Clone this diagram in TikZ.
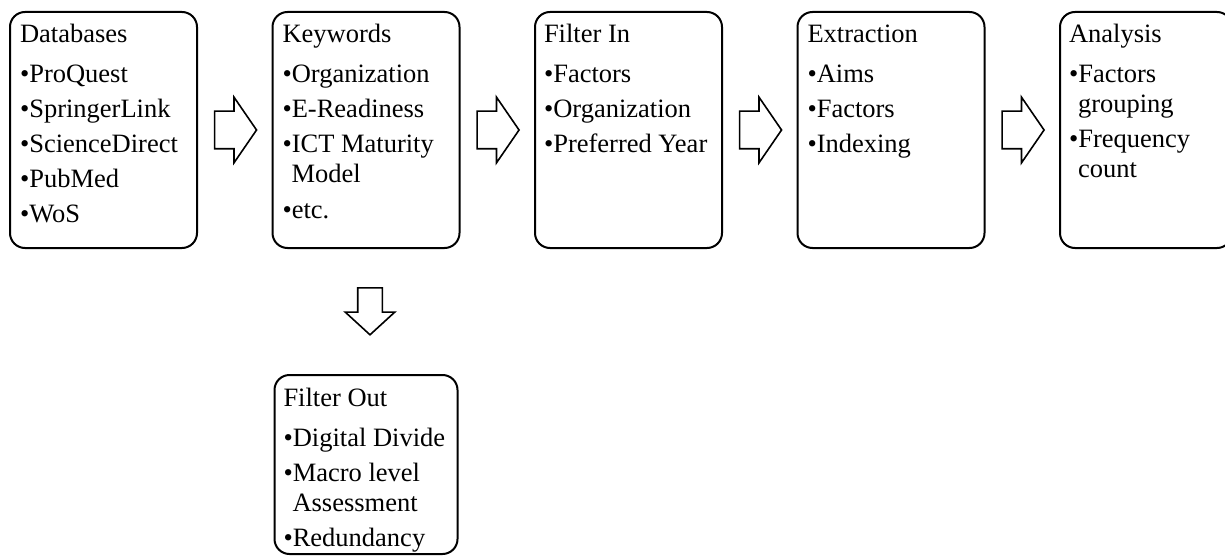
\documentclass[tikz,border=0pt]{standalone}
\usepackage{fontspec}
\setmainfont{Liberation Serif}
\usetikzlibrary{positioning,shapes.arrows,calc}

% text block of a stage: width, height, left inset, content
\newcommand{\stagetext}[4]{%
  \begin{minipage}[c][#2][t]{#1}%
  \fontsize{26.5}{30}\selectfont\raggedright
  \leftskip=#3\relax\parskip=5pt\relax
  \rule{0pt}{31pt}#4%
  \end{minipage}}
\newcommand{\stagehead}[1]{#1\par\vspace{5pt}}
\newcommand{\itm}[1]{\par\hangindent=9pt\hangafter=1 •#1}

\begin{document}
\begin{tikzpicture}[x=1pt, y=-1pt,
  stage/.style={draw, line width=2pt, rounded corners=15pt, inner sep=0pt},
  rarrow/.style={single arrow, draw, fill=white, line width=1.6pt, anchor=tail,
                 inner xsep=0pt, inner ysep=18pt, minimum height=42pt,
                 single arrow head extend=14pt, single arrow tip angle=111,
                 single arrow head indent=0pt},
  darrow/.style={rarrow, rotate=-90, inner ysep=11.5pt, minimum height=47pt,
                 single arrow head extend=12.5pt, single arrow tip angle=95}]
  \useasboundingbox (0,0) rectangle (1225,556);
  \node[stage] (db) at (103.5,130) {\stagetext{187pt}{236pt}{10pt}{%
    \stagehead{Databases}
    \itm{ProQuest}\itm{SpringerLink}\itm{ScienceDirect}\itm{PubMed}\itm{WoS}}};
  \node[stage, right=73.5pt of db] (kw) {\stagetext{187pt}{236pt}{10pt}{%
    \stagehead{Keywords}
    \itm{Organization}\itm{E-Readiness}\itm{ICT Maturity Model}\itm{etc.}}};
  \node[stage, right=73.5pt of kw] (fi) {\stagetext{187pt}{236pt}{9pt}{%
    \stagehead{Filter In}
    \itm{Factors}\itm{Organization}\itm{Preferred Year}}};
  \node[stage, right=73.5pt of fi] (ex) {\stagetext{187pt}{236pt}{10pt}{%
    \stagehead{Extraction}
    \itm{Aims}\itm{Factors}\itm{Indexing}}};
  \node[stage, right=73.5pt of ex] (an) {\stagetext{172pt}{236pt}{9pt}{%
    \stagehead{Analysis}
    \itm{Factors grouping}\itm{Frequency count}}};
  \node[stage, below=125pt of kw] (fo) {\stagetext{183pt}{179pt}{9pt}{%
    \stagehead{Filter Out}
    \itm{Digital Divide}\itm{Macro level Assessment}\itm{Redundancy}}};

  % block arrows between the stages
  \node[rarrow] (a1) at ($(db.east)!0.5!(kw.west)+(-21,0)$) {};
  \node[rarrow] (a2) at ($(kw.east)!0.5!(fi.west)+(-21,0)$) {};
  \node[rarrow] (a3) at ($(fi.east)!0.5!(ex.west)+(-21,0)$) {};
  \node[rarrow] (a4) at ($(ex.east)!0.5!(an.west)+(-21,0)$) {};
  \node[darrow] (a5) at ($(kw.south)+(4,38)$) {};
\end{tikzpicture}
\end{document}
